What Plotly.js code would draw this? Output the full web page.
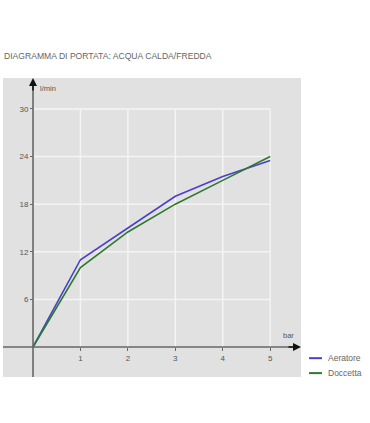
<!DOCTYPE html>
<html><head><meta charset="utf-8">
<script src="https://cdn.plot.ly/plotly-3.0.1.min.js"></script>
<style>html,body{margin:0;padding:0;background:#fff}#c{width:370px;height:423px}</style>
</head><body><div id="c"></div>
<script>
const pressure = [0, 1, 2, 3, 4, 5];
const aeratore = [0, 11, 15, 19, 21.5, 23.5];
const doccetta = [0, 10, 14.5, 18, 21, 24];
const xTicks = [1, 2, 3, 4, 5];
const yTicks = [6, 12, 18, 24, 30];
const seriesNames = ['Aeratore', 'Doccetta'];
const seriesColors = ['#4b3fcf', '#2b7a2e'];

const xr = [-0.633, 5.65];
const yr = [-3.78, 33.9];
const axisCol = '#666';
const txtCol = '#555';
const font = 'Liberation Sans, Arial, sans-serif';

const shapes = [];
xTicks.forEach(v => shapes.push({type:'line', xref:'x', yref:'y', x0:v, x1:v, y0:0, y1:yTicks[yTicks.length-1], line:{color:'#f4f4f4', width:1.5}, layer:'below'}));
yTicks.forEach(v => shapes.push({type:'line', xref:'x', yref:'y', x0:0, x1:xTicks[xTicks.length-1], y0:v, y1:v, line:{color:'#f4f4f4', width:1.5}, layer:'below'}));

const traces = [
  {x: pressure, y: aeratore, name: seriesNames[0], mode:'lines', line:{color:seriesColors[0], width:1.6}},
  {x: pressure, y: doccetta, name: seriesNames[1], mode:'lines', line:{color:seriesColors[1], width:1.6}}
];

const annotations = [
  {xref:'paper', yref:'paper', x:-0.003, y:1.075, xanchor:'left', yanchor:'middle', showarrow:false,
   text:'DIAGRAMMA DI PORTATA: ACQUA CALDA/FREDDA', font:{family:font, size:8.6, color:'#666'}},
  {xref:'x', yref:'paper', x:0, y:1, ax:0, ay:14, showarrow:true, arrowhead:2, arrowsize:1, arrowwidth:1.6, arrowcolor:'#111', text:''},
  {xref:'paper', yref:'y', x:1, y:0, ax:-14, ay:0, showarrow:true, arrowhead:2, arrowsize:1, arrowwidth:1.6, arrowcolor:'#111', text:''},
  {xref:'x', yref:'paper', x:0.1, y:0.965, xanchor:'left', yanchor:'middle', showarrow:false, text:'l/min', font:{family:font, size:7.5, color:'#555'}},
  {xref:'x', yref:'y', x:5.55, y:0, xanchor:'right', yanchor:'bottom', yshift:5, showarrow:false, text:'bar', font:{family:font, size:7.5, color:'#555'}}
];
const legendY = [0.063, 0.013];
seriesNames.forEach((n, i) => {
  shapes.push({type:'line', xref:'paper', yref:'paper', x0:1.027, x1:1.0705, y0:legendY[i], y1:legendY[i], line:{color:seriesColors[i], width:2}});
  annotations.push({xref:'paper', yref:'paper', x:1.085, y:legendY[i], xanchor:'left', yanchor:'middle', showarrow:false, text:n, font:{family:font, size:8.5, color:'#666'}});
});

const layout = {
  width:370, height:423,
  margin:{l:3, r:69, t:78, b:46},
  paper_bgcolor:'#fff', plot_bgcolor:'#e1e1e1',
  showlegend:false,
  xaxis:{range:xr, showgrid:false, zeroline:false, showline:false, tickvals:xTicks, ticktext:xTicks.map(String),
         anchor:'free', position:(0-yr[0])/(yr[1]-yr[0]), ticks:'outside', ticklen:3, tickcolor:axisCol,
         tickfont:{family:font, size:8, color:txtCol}, fixedrange:true},
  yaxis:{range:yr, showgrid:false, zeroline:false, showline:false, tickvals:yTicks, ticktext:yTicks.map(String),
         anchor:'free', position:(0-xr[0])/(xr[1]-xr[0]), ticks:'outside', ticklen:3, tickcolor:axisCol,
         tickfont:{family:font, size:8, color:txtCol}, fixedrange:true},
  shapes: shapes.concat([
    {type:'line', xref:'x', yref:'paper', x0:0, x1:0, y0:0, y1:0.985, line:{color:axisCol, width:1.6}},
    {type:'line', xref:'paper', yref:'y', x0:0, x1:0.985, y0:0, y1:0, line:{color:axisCol, width:1.6}}
  ]),
  annotations: annotations
};
Plotly.newPlot('c', traces, layout, {displayModeBar:false, staticPlot:true});
</script></body></html>
